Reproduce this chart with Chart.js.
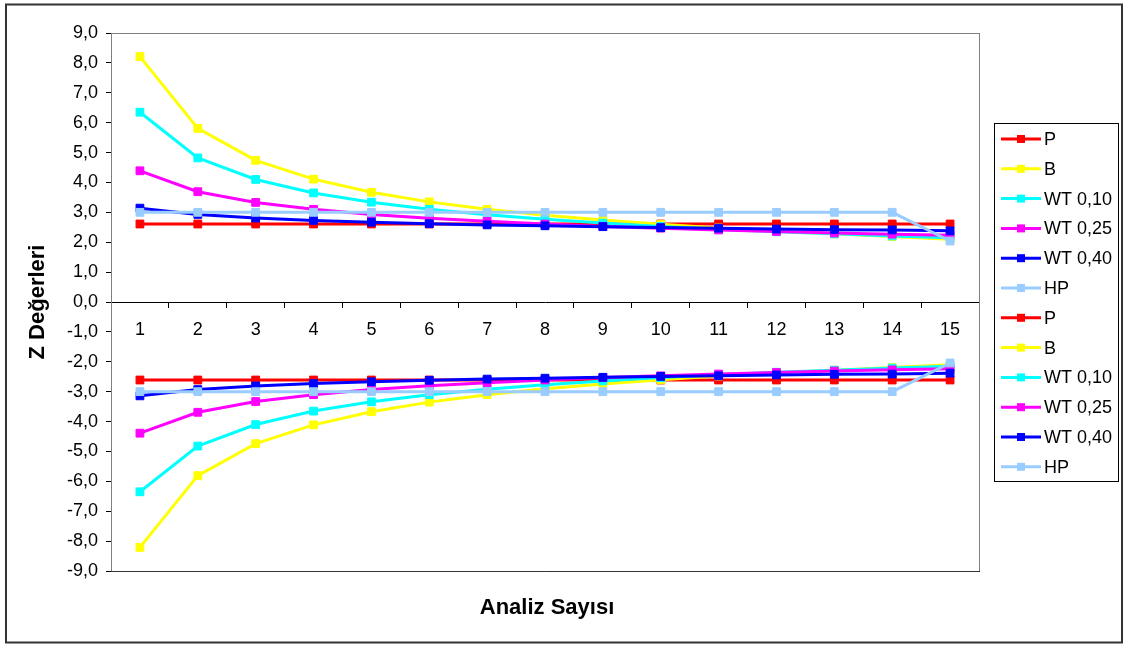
<!DOCTYPE html>
<html>
<head>
<meta charset="utf-8">
<script src="https://cdn.jsdelivr.net/npm/chart.js@4.4.1/dist/chart.umd.min.js"></script>
<style>
  html, body { margin: 0; padding: 0; background: #fff; }
  canvas { display: block; }
</style>
</head>
<body>
<canvas id="chZ" width="1124" height="646"></canvas>
<script>
var analiz = ['1', '2', '3', '4', '5', '6', '7', '8', '9', '10', '11', '12', '13', '14', '15'];
var seriesNames = ['P', 'B', 'WT 0,10', 'WT 0,25', 'WT 0,40', 'HP'];
var colors = ['#ff0000', '#ffff00', '#00ffff', '#ff00ff', '#0000ff', '#99ccff'];

// upper bounds
var pUp    = [2.61, 2.61, 2.61, 2.61, 2.61, 2.61, 2.61, 2.61, 2.61, 2.61, 2.61, 2.61, 2.61, 2.61, 2.61];
var bUp    = [8.21, 5.81, 4.74, 4.11, 3.67, 3.35, 3.10, 2.90, 2.74, 2.60, 2.48, 2.37, 2.28, 2.19, 2.10];
var wt10Up = [6.35, 4.82, 4.10, 3.65, 3.34, 3.10, 2.92, 2.77, 2.64, 2.53, 2.43, 2.35, 2.28, 2.21, 2.15];
var wt25Up = [4.39, 3.69, 3.33, 3.10, 2.93, 2.80, 2.70, 2.61, 2.53, 2.47, 2.41, 2.36, 2.31, 2.27, 2.23];
var wt40Up = [3.14, 2.93, 2.81, 2.73, 2.67, 2.62, 2.58, 2.55, 2.52, 2.49, 2.47, 2.44, 2.42, 2.41, 2.38];
var hpUp   = [3.00, 3.00, 3.00, 3.00, 3.00, 3.00, 3.00, 3.00, 3.00, 3.00, 3.00, 3.00, 3.00, 3.00, 2.04];

// lower bounds
var pLow    = [-2.61, -2.61, -2.61, -2.61, -2.61, -2.61, -2.61, -2.61, -2.61, -2.61, -2.61, -2.61, -2.61, -2.61, -2.61];
var bLow    = [-8.21, -5.81, -4.74, -4.11, -3.67, -3.35, -3.10, -2.90, -2.74, -2.60, -2.48, -2.37, -2.28, -2.19, -2.10];
var wt10Low = [-6.35, -4.82, -4.10, -3.65, -3.34, -3.10, -2.92, -2.77, -2.64, -2.53, -2.43, -2.35, -2.28, -2.21, -2.15];
var wt25Low = [-4.39, -3.69, -3.33, -3.10, -2.93, -2.80, -2.70, -2.61, -2.53, -2.47, -2.41, -2.36, -2.31, -2.27, -2.23];
var wt40Low = [-3.14, -2.93, -2.81, -2.73, -2.67, -2.62, -2.58, -2.55, -2.52, -2.49, -2.47, -2.44, -2.42, -2.41, -2.38];
var hpLow   = [-3.00, -3.00, -3.00, -3.00, -3.00, -3.00, -3.00, -3.00, -3.00, -3.00, -3.00, -3.00, -3.00, -3.00, -2.04];

var allSeries = [pUp, bUp, wt10Up, wt25Up, wt40Up, hpUp, pLow, bLow, wt10Low, wt25Low, wt40Low, hpLow];

var fontFam = '"Liberation Sans", Arial, sans-serif';

var datasets = allSeries.map(function (vals, i) {
  var c = colors[i % 6];
  return {
    label: seriesNames[i % 6],
    data: vals,
    borderColor: c,
    backgroundColor: c,
    borderWidth: 3,
    pointStyle: 'rect',
    pointRadius: 5.5,
    pointHoverRadius: 5.5,
    pointBorderWidth: 1,
    pointBorderColor: c,
    pointBackgroundColor: c,
    tension: 0,
    order: allSeries.length - i   // later series on top, like Excel
  };
});

/* ---------- frame, plot border, legend box and axis titles ---------- */
var excelLook = {
  id: 'excelLook',
  beforeDraw: function (chart) {
    var ctx = chart.ctx;
    ctx.save();
    ctx.fillStyle = '#fff';
    ctx.fillRect(0, 0, chart.width, chart.height);
    ctx.strokeStyle = '#333';
    ctx.lineWidth = 2;
    ctx.strokeRect(6, 4.5, 1116, 638);   // outer chart border
    ctx.restore();
  },
  beforeDatasetsDraw: function (chart) {
    var a = chart.chartArea, ctx = chart.ctx;
    ctx.save();
    ctx.strokeStyle = '#808080';
    ctx.lineWidth = 1;
    ctx.strokeRect(a.left + 0.5, a.top + 0.5, a.right - a.left, a.bottom - a.top);
    ctx.strokeStyle = '#333';
    ctx.beginPath();
    ctx.moveTo(a.left, a.bottom + 0.5);
    ctx.lineTo(a.right + 1, a.bottom + 0.5);
    ctx.stroke();
    ctx.restore();
  },
  afterDraw: function (chart) {
    var ctx = chart.ctx, a = chart.chartArea;
    ctx.save();

    // legend
    var lx = 994, ly = 123, lw = 124, lh = 358;
    ctx.strokeStyle = '#000';
    ctx.lineWidth = 1;
    ctx.strokeRect(lx + 0.5, ly + 0.5, lw, lh);
    ctx.font = '18px ' + fontFam;
    ctx.textBaseline = 'middle';
    ctx.textAlign = 'left';
    chart.data.datasets.forEach(function (ds, i) {
      var y = 139 + i * 29.8;
      ctx.strokeStyle = ds.borderColor;
      ctx.lineWidth = 3;
      ctx.beginPath();
      ctx.moveTo(1001, y);
      ctx.lineTo(1041, y);
      ctx.stroke();
      ctx.fillStyle = ds.borderColor;
      ctx.fillRect(1017, y - 4, 8, 8);
      ctx.fillStyle = '#000';
      ctx.fillText(ds.label, 1044, y + 1);
    });

    // axis titles
    ctx.fillStyle = '#000';
    ctx.font = 'bold 22px ' + fontFam;
    ctx.textAlign = 'center';
    ctx.textBaseline = 'middle';
    ctx.fillText('Analiz Sayısı', (a.left + a.right) / 2 + 2, 608);

    ctx.translate(38, (a.top + a.bottom) / 2);
    ctx.rotate(-Math.PI / 2);
    ctx.fillText('Z Değerleri', 0, 0);
    ctx.restore();
  }
};

var chZ = document.getElementById('chZ');
new Chart(chZ, {
  type: 'line',
  data: { labels: analiz, datasets: datasets },
  options: {
    responsive: false,
    devicePixelRatio: 1,
    animation: false,
    events: [],
    layout: { padding: { left: 0, top: 33, right: 145, bottom: 75 } },
    plugins: {
      legend: { display: false },
      tooltip: { enabled: false },
      title: { display: false }
    },
    scales: {
      x: {
        type: 'category',
        position: { y: 0 },
        offset: true,
        grid: { offset: true, drawOnChartArea: false, drawTicks: true, tickLength: 5, color: '#000' },
        border: { display: true, color: '#000', width: 1 },
        ticks: { color: '#000', font: { family: fontFam, size: 18 }, padding: 12, maxRotation: 0, autoSkip: false }
      },
      y: {
        min: -9,
        max: 9,
        afterFit: function (s) { s.width = 111; },
        grid: { drawOnChartArea: false, tickLength: 5, color: '#000' },
        border: { display: true, color: '#000', width: 1 },
        ticks: {
          stepSize: 1,
          padding: 8,
          color: '#000',
          font: { family: fontFam, size: 18 },
          callback: function (v) { return v.toFixed(1).replace('.', ','); }
        }
      }
    }
  },
  plugins: [excelLook]
});
</script>
</body>
</html>
